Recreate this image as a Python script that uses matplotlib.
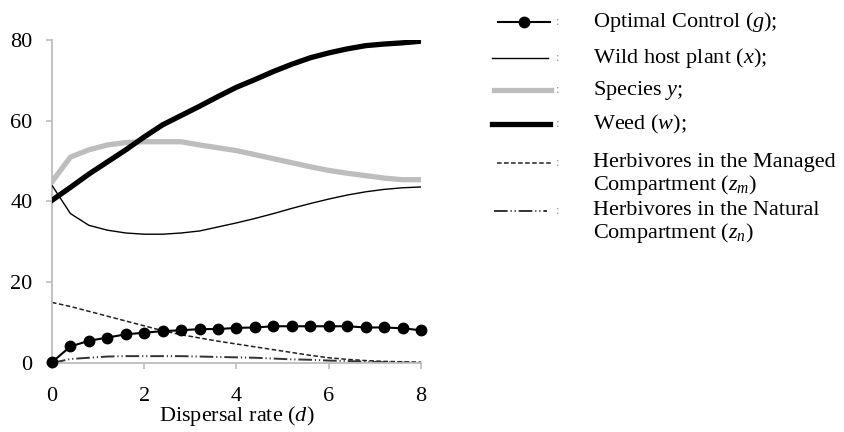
import matplotlib
matplotlib.use("Agg")
import matplotlib.pyplot as plt
from matplotlib.lines import Line2D

plt.rcParams["font.family"] = ["Liberation Serif", "DejaVu Serif"]
plt.rcParams["mathtext.fontset"] = "custom"
plt.rcParams["mathtext.rm"] = "Liberation Serif"
plt.rcParams["mathtext.it"] = "Liberation Serif:italic"

# dispersal rate grid
d = [0.0, 0.4, 0.8, 1.2, 1.6, 2.0, 2.4, 2.8, 3.2, 3.6, 4.0,
     4.4, 4.8, 5.2, 5.6, 6.0, 6.4, 6.8, 7.2, 7.6, 8.0]

g = [0.2, 4.1, 5.5, 6.3, 7.1, 7.5, 7.9, 8.1, 8.4, 8.4, 8.7,
     8.8, 9.1, 9.1, 9.1, 9.1, 9.1, 8.8, 8.8, 8.6, 8.1]
x_host = [44.0, 37.0, 34.1, 32.9, 32.2, 31.9, 31.9, 32.2, 32.7, 33.7, 34.7,
          35.8, 37.0, 38.3, 39.5, 40.6, 41.6, 42.4, 43.0, 43.4, 43.6]
y_species = [44.9, 51.0, 52.8, 54.0, 54.6, 54.8, 54.8, 54.8, 54.0, 53.3, 52.6,
             51.6, 50.6, 49.6, 48.6, 47.7, 47.0, 46.4, 45.8, 45.4, 45.4]
w_weed = [40.3, 43.5, 46.8, 49.8, 52.8, 56.0, 59.0, 61.3, 63.6, 66.0, 68.3,
          70.2, 72.2, 74.0, 75.6, 76.8, 77.8, 78.6, 79.0, 79.3, 79.7]
z_m = [15.0, 14.0, 12.8, 11.6, 10.4, 9.2, 8.0, 7.0, 6.2, 5.4, 4.7,
       4.0, 3.3, 2.6, 1.9, 1.3, 0.9, 0.6, 0.4, 0.3, 0.2]
z_n = [0.0, 1.0, 1.3, 1.6, 1.7, 1.7, 1.7, 1.7, 1.6, 1.5, 1.4,
       1.3, 1.1, 0.9, 0.8, 0.6, 0.5, 0.3, 0.2, 0.1, 0.0]

labels = ["Optimal Control ($g$);", "Wild host plant ($x$);", "Species $y$;",
          "Weed ($w$);", "Herbivores in the Managed\nCompartment ($z_m$)",
          "Herbivores in the Natural\nCompartment ($z_n$)"]

gray = "#bdbdbd"
styles = [
    dict(color="black", lw=1.5, marker="o", ms=7.5),
    dict(color="black", lw=1.0),
    dict(color=gray, lw=3.8),
    dict(color="black", lw=3.8),
    dict(color="#222222", lw=1.1, dashes=(3, 1.6)),
    dict(color="#333333", lw=1.4, dashes=(7, 1.5, 0.6, 1.5, 0.6, 1.5)),
]

fig = plt.figure(figsize=(8.44, 4.32), dpi=100)
ax = fig.add_axes([52 / 844, 1 - 363 / 432, 369 / 844, 323 / 432])

ax.plot(d, z_m, zorder=2, **styles[4])
ax.plot(d, z_n, zorder=2, **styles[5])
ax.plot(d, x_host, zorder=3, **styles[1])
ax.plot(d, y_species, zorder=3, **styles[2])
ax.plot(d, w_weed, zorder=4, **styles[3])
ax.plot(d, g, zorder=5, clip_on=False, **styles[0])

ax.set_xlim(0, 8)
ax.set_ylim(0, 80)
ax.set_xticks([0, 2, 4, 6, 8])
ax.set_yticks([0, 20, 40, 60, 80])
for side in ("top", "right"):
    ax.spines[side].set_visible(False)
for side in ("left", "bottom"):
    ax.spines[side].set_color(gray)
    ax.spines[side].set_linewidth(1.3)
ax.tick_params(axis="both", colors=gray, length=4, width=1.2, labelsize=16,
               labelcolor="black")
ax.tick_params(axis="y", pad=10)
ax.tick_params(axis="x", pad=13)
ax.set_xlabel("Dispersal rate ($d$)", fontsize=16, labelpad=-1)

# hand-placed legend on the right
rows_y = [22, 58, 90, 124, 163, 211]
text_y = [22, 58, 90, 124, 175, 223]
handle_x = [(498, 550), (492, 548), (494, 551), (492, 550), (497, 551), (494, 547)]
for i, (lab, st) in enumerate(zip(labels, styles)):
    yy = 1 - rows_y[i] / 432
    x0, x1 = handle_x[i]
    st = dict(st)
    if "marker" in st:
        ln = Line2D([x0 / 844, x1 / 844], [yy, yy], transform=fig.transFigure,
                    color=st["color"], lw=st["lw"])
        fig.add_artist(ln)
        mk = Line2D([(x0 + x1) / 2 / 844], [yy], transform=fig.transFigure,
                    color="black", marker="o", ms=7.5, lw=0)
        fig.add_artist(mk)
    else:
        ln = Line2D([x0 / 844, x1 / 844], [yy, yy], transform=fig.transFigure, **st)
        fig.add_artist(ln)
    fig.text(558 / 844, yy, ":", fontsize=9, color="#888888", va="center", ha="center")
    fig.text(593 / 844, 1 - text_y[i] / 432, lab, fontsize=16, va="center",
             ha="left", linespacing=1.1)

fig.savefig("out.png", dpi=100)
